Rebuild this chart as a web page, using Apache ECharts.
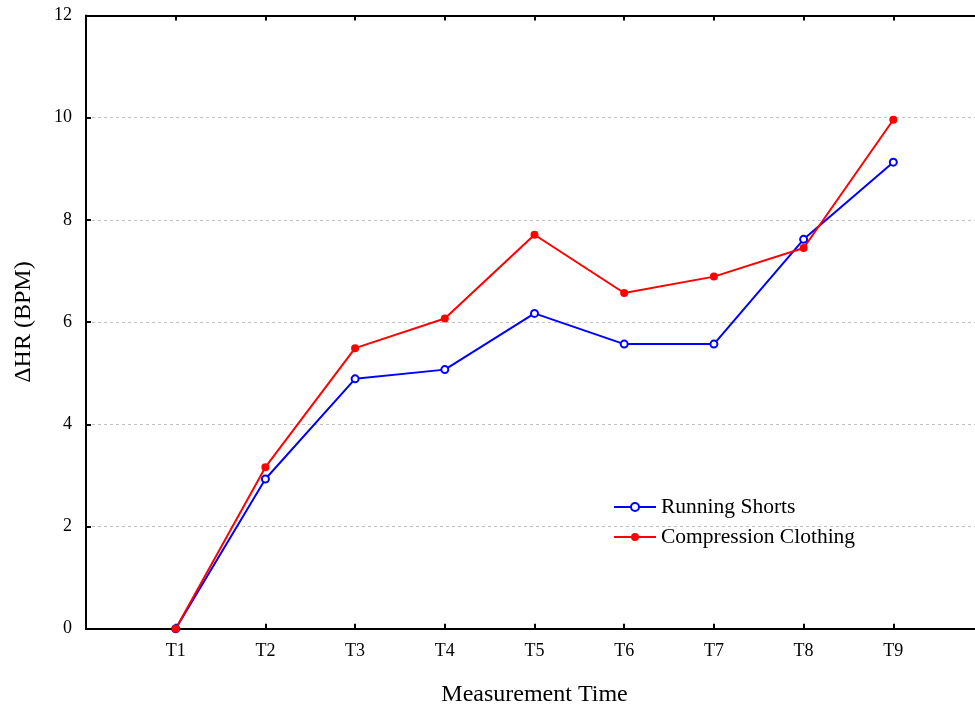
<html>
	<head>
		<meta charset="utf-8">
		<title>ΔHR by measurement time</title>
		<script src="https://cdn.jsdelivr.net/npm/echarts@6/dist/echarts.min.js"></script>
	</head>
	<body style="margin: 0px;">
		<div id="main" style="width: 975px;height:711px;"></div>
		<script type="text/javascript">
			// measurement points T1..T9
			var timeLabels = ['T1', 'T2', 'T3', 'T4', 'T5', 'T6', 'T7', 'T8', 'T9'];
			var runningShorts = [0, 2.93, 4.89, 5.07, 6.17, 5.57, 5.57, 7.62, 9.13];
			var compression = [0, 3.16, 5.49, 6.07, 7.71, 6.57, 6.89, 7.45, 9.96];

			// x positions: T1 sits one step in from the left axis
			function pairs(vals) {
				return vals.map(function(v, i) {
					return [i + 1, v];
				});
			}

			var serif = 'Liberation Serif';
			var chart = echarts.init(document.getElementById('main'));
			chart.setOption({
				animation: false,
				backgroundColor: '#fff',
				textStyle: {
					fontFamily: serif
				},
				grid: {
					left: 86,
					top: 15.5,
					bottom: 82.3,
					width: 897,
					outerBoundsMode: 'none'
				},
				legend: {
					orient: 'vertical',
					left: 608,
					top: 491,
					itemWidth: 42,
					itemHeight: 10,
					itemGap: 8,
					textStyle: {
						fontFamily: serif,
						fontSize: 21.5,
						color: '#000'
					},
					data: ['Running Shorts', 'Compression Clothing']
				},
				xAxis: [{
					type: 'value',
					min: 0,
					max: 10,
					interval: 1,
					name: 'Measurement Time',
					nameLocation: 'middle',
					nameGap: 54,
					nameTextStyle: {
						fontFamily: serif,
						fontSize: 24,
						color: '#000'
					},
					axisLine: {
						lineStyle: { color: '#000', width: 2 }
					},
					axisTick: {
						inside: true,
						length: 5,
						lineStyle: { color: '#000', width: 2 }
					},
					axisLabel: {
						margin: 14,
						fontFamily: serif,
						fontSize: 18,
						color: '#000',
						formatter: function(v) {
							return timeLabels[v - 1] || '';
						}
					},
					splitLine: { show: false }
				}, {
					type: 'value',
					position: 'top',
					min: 0,
					max: 10,
					interval: 1,
					axisLine: {
						lineStyle: { color: '#000', width: 2 }
					},
					axisTick: {
						inside: true,
						length: 5,
						lineStyle: { color: '#000', width: 2 }
					},
					axisLabel: { show: false },
					splitLine: { show: false }
				}],
				yAxis: {
					type: 'value',
					min: 0,
					max: 12,
					interval: 2,
					name: 'ΔHR (BPM)',
					nameLocation: 'middle',
					nameGap: 50,
					nameTextStyle: {
						fontFamily: serif,
						fontSize: 24,
						color: '#000'
					},
					axisLine: {
						show: true,
						lineStyle: { color: '#000', width: 2 }
					},
					axisTick: {
						show: true,
						inside: true,
						length: 5,
						lineStyle: { color: '#000', width: 2 }
					},
					axisLabel: {
						margin: 14,
						fontFamily: serif,
						fontSize: 18,
						color: '#000'
					},
					splitLine: {
						show: true,
						lineStyle: { color: '#c0c0c0', type: [3, 3], width: 1 }
					}
				},
				series: [{
					name: 'Running Shorts',
					type: 'line',
					symbol: 'emptyCircle',
					symbolSize: 7,
					color: '#0000ff',
					lineStyle: { width: 2 },
					itemStyle: { borderWidth: 1.2 },
					data: pairs(runningShorts)
				}, {
					name: 'Compression Clothing',
					type: 'line',
					symbol: 'circle',
					symbolSize: 8,
					color: '#ff0000',
					lineStyle: { width: 2 },
					data: pairs(compression)
				}]
			});
		</script>
	</body>
</html>
